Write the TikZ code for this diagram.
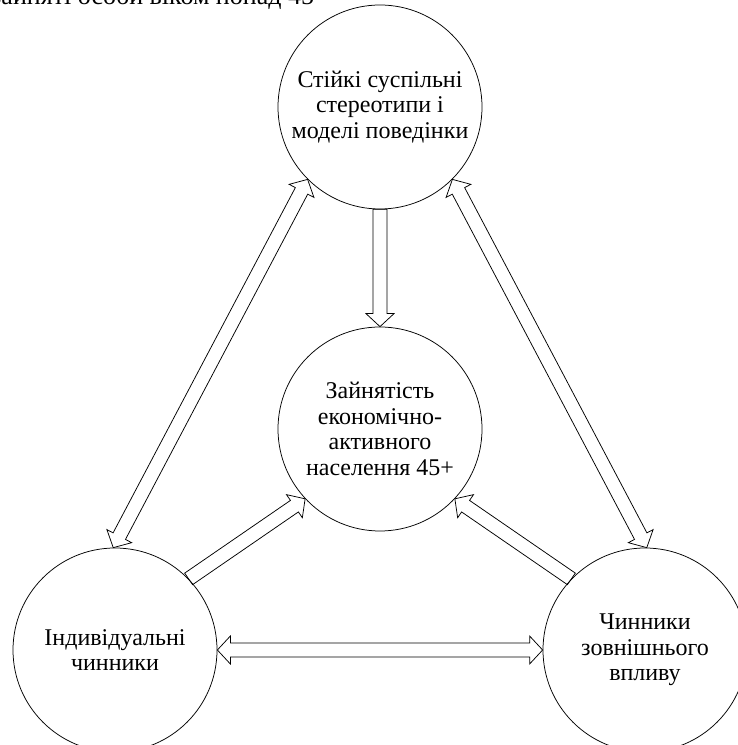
\documentclass[tikz,border=0pt]{standalone}
\usepackage{fontspec}
\setmainfont{Liberation Serif}
\usetikzlibrary{calc}
\newcommand{\circfont}{\fontsize{24}{25.5}\selectfont}
\newcommand{\titlefont}{\fontsize{26}{30}\selectfont}
\tikzset{
  factor/.style={circle, draw, line width=0.75pt, minimum size=204pt,
    inner sep=0pt, align=center, font=\circfont},
  blockarrow/.style={draw, line width=0.75pt, line join=miter},
  cuttitle/.style={anchor=base west, inner sep=0pt, font=\titlefont}
}
% hollow block arrow, tail #1, tip #2
\newcommand{\onewayarrow}[2]{%
  \draw[blockarrow] ($(#1)!7pt!90:(#2)$)
    -- ($(#2)!13pt!(#1)!7pt!90:(#2)$) -- ($(#2)!13pt!(#1)!14pt!90:(#2)$)
    -- (#2)
    -- ($(#2)!13pt!(#1)!14pt!-90:(#2)$) -- ($(#2)!13pt!(#1)!7pt!-90:(#2)$)
    -- ($(#1)!7pt!-90:(#2)$) -- cycle;}
% hollow block arrow with a head at each end
\newcommand{\twowayarrow}[2]{%
  \draw[blockarrow] (#1)
    -- ($(#1)!13pt!(#2)!14pt!90:(#2)$) -- ($(#1)!13pt!(#2)!7pt!90:(#2)$)
    -- ($(#2)!13pt!(#1)!7pt!90:(#2)$) -- ($(#2)!13pt!(#1)!14pt!90:(#2)$)
    -- (#2)
    -- ($(#2)!13pt!(#1)!14pt!-90:(#2)$) -- ($(#2)!13pt!(#1)!7pt!-90:(#2)$)
    -- ($(#1)!13pt!(#2)!7pt!-90:(#2)$) -- ($(#1)!13pt!(#2)!14pt!-90:(#2)$)
    -- cycle;}

\begin{document}
\begin{tikzpicture}[x=1pt, y=1pt]
      \useasboundingbox (0,0) rectangle (738,745);
      \node[cuttitle] (title) at (-9,740) {зайняті особи віком понад 45};
      \node[factor] (stereo) at (380,638) {Стійкі суспільні\\стереотипи і\\моделі поведінки};
      \node[factor] (zayn) at (380,316) {Зайнятість\\економічно-\\активного\\населення 45+};
      \node[factor] (indyv) at (115,95) {Індивідуальні\\чинники};
      \node[factor] (zovn) at (645,95) {Чинники\\зовнішнього\\впливу};
      \onewayarrow{stereo.south}{zayn.north}
      \onewayarrow{indyv.44}{zayn.223}
      \onewayarrow{zovn.136}{zayn.317}
      \twowayarrow{stereo.225}{indyv.91}
      \twowayarrow{stereo.315}{zovn.89}
      \twowayarrow{indyv.east}{zovn.west}
    \end{tikzpicture}
\end{document}
